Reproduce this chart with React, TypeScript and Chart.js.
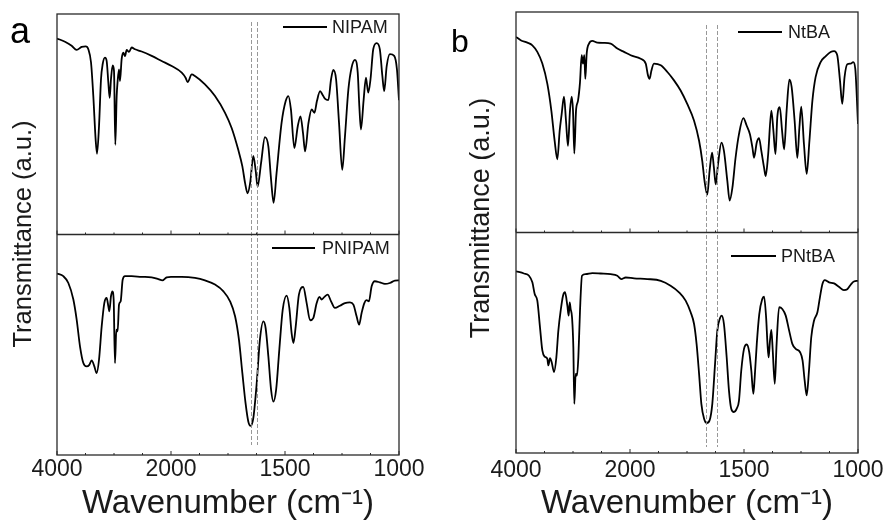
import React, { useEffect, useRef } from 'react';
import { Chart, registerables } from 'chart.js';

Chart.register(...registerables);

const FONT = "'Liberation Sans', Arial, Helvetica, sans-serif";

// Labelled wavenumbers on the (broken) x axis
const X_LABELS = [4000, 2000, 1500, 1000];

// [wavenumber (cm-1), transmittance (a.u., 0-100 within its sub-plot)]
const NIPAM: [number, number][] = [
  [4000, 88.9], [3860, 87.4], [3743, 85.6], [3655, 83.7], [3567, 85.1], [3497, 85.3], [3450, 84.0],
  [3403, 78.0], [3363, 62.8], [3322, 43.0], [3298, 36.6], [3263, 49.1], [3228, 70.4], [3199, 77.2],
  [3158, 80.2], [3129, 78.7], [3099, 68.8], [3076, 62.0], [3053, 70.4], [3023, 76.7], [3000, 74.2],
  [2977, 40.7], [2953, 62.8], [2936, 69.6], [2912, 74.9], [2895, 69.6], [2866, 79.5], [2837, 82.5],
  [2807, 80.9], [2778, 83.7], [2737, 82.8], [2690, 84.8], [2632, 84.0], [2515, 83.0], [2339, 81.0],
  [2164, 78.7], [1997, 76.4], [1953, 73.4], [1936, 71.1], [1927, 69.1], [1909, 72.6], [1895, 71.9],
  [1851, 68.1], [1807, 62.8], [1763, 55.2], [1734, 48.3], [1705, 38.4], [1687, 30.9], [1675, 23.3],
  [1664, 18.7], [1652, 24.0], [1639, 35.7], [1629, 29.3], [1620, 21.7], [1605, 32.4], [1588, 44.2],
  [1573, 40.0], [1561, 24.8], [1550, 14.4], [1537, 27.8], [1515, 50.6], [1497, 60.5], [1485, 62.8],
  [1474, 56.7], [1459, 39.2], [1444, 49.1], [1432, 53.6], [1421, 46.0], [1412, 37.7], [1397, 50.6],
  [1383, 56.7], [1371, 55.2], [1360, 60.5], [1346, 65.0], [1336, 63.5], [1325, 61.6], [1310, 60.9],
  [1298, 70.4], [1288, 74.6], [1276, 70.4], [1263, 50.6], [1249, 29.3], [1237, 44.5], [1222, 65.8],
  [1208, 75.7], [1193, 79.2], [1181, 73.4], [1174, 58.2], [1167, 47.6], [1155, 61.2], [1145, 71.1],
  [1135, 64.3], [1125, 70.4], [1113, 84.0], [1098, 86.8], [1084, 84.0], [1073, 71.9], [1065, 65.0],
  [1054, 76.4], [1040, 81.8], [1021, 81.0], [1009, 74.9], [1000, 60.9],
];

const PNIPAM: [number, number][] = [
  [4000, 82.3], [3889, 81.1], [3801, 78.0], [3713, 70.5], [3655, 61.4], [3596, 49.2], [3538, 41.7],
  [3480, 40.2], [3433, 40.9], [3392, 42.9], [3345, 40.2], [3304, 37.1], [3263, 43.2], [3216, 58.3],
  [3170, 68.9], [3129, 71.2], [3099, 67.4], [3082, 65.2], [3053, 72.0], [3029, 74.2], [3006, 70.5],
  [2983, 41.7], [2959, 56.8], [2936, 56.1], [2912, 68.2], [2883, 69.7], [2848, 79.5], [2807, 81.1],
  [2690, 81.1], [2515, 80.8], [2339, 80.6], [2222, 79.8], [2152, 79.2], [2076, 80.6], [2000, 80.8],
  [1953, 80.8], [1895, 80.3], [1851, 79.2], [1807, 77.3], [1770, 74.2], [1741, 69.7], [1719, 62.9],
  [1702, 52.3], [1687, 37.1], [1673, 23.5], [1661, 15.2], [1651, 13.2], [1639, 16.7], [1624, 32.6],
  [1610, 52.3], [1595, 60.6], [1585, 57.6], [1573, 44.7], [1561, 29.5], [1551, 24.2], [1539, 29.5],
  [1525, 47.7], [1510, 65.9], [1493, 72.3], [1481, 66.7], [1471, 55.3], [1463, 50.8], [1453, 58.3],
  [1439, 72.7], [1420, 76.2], [1405, 68.9], [1390, 61.1], [1376, 62.1], [1361, 68.9], [1349, 71.7],
  [1339, 70.5], [1327, 71.7], [1313, 72.7], [1298, 69.7], [1281, 66.7], [1259, 67.7], [1237, 68.9],
  [1215, 69.2], [1200, 68.2], [1186, 62.9], [1175, 59.1], [1164, 64.4], [1152, 68.9], [1142, 70.2],
  [1132, 69.7], [1120, 76.5], [1106, 78.8], [1084, 78.3], [1062, 77.6], [1040, 78.0], [1018, 79.1],
  [1000, 79.2],
];

const NTBA: [number, number][] = [
  [4000, 88.7], [3918, 87.2], [3801, 86.1], [3713, 84.9], [3626, 81.9], [3538, 76.6], [3450, 67.4],
  [3380, 55.3], [3322, 41.6], [3275, 33.2], [3234, 46.1], [3199, 53.7], [3158, 61.6], [3123, 50.7],
  [3088, 39.3], [3053, 55.3], [3023, 61.6], [3000, 55.3], [2977, 35.8], [2947, 55.3], [2912, 59.8],
  [2877, 68.2], [2848, 80.4], [2825, 76.6], [2801, 80.4], [2784, 69.7], [2760, 81.1], [2719, 85.7],
  [2661, 86.9], [2573, 86.1], [2456, 86.0], [2339, 85.7], [2222, 83.4], [2105, 81.9], [1997, 80.4],
  [1953, 78.8], [1931, 76.6], [1921, 71.2], [1914, 69.7], [1906, 73.5], [1895, 76.6], [1865, 75.8],
  [1836, 72.8], [1807, 69.0], [1778, 64.4], [1749, 58.3], [1719, 50.7], [1697, 41.6], [1683, 32.4],
  [1673, 23.3], [1661, 17.2], [1651, 27.9], [1640, 36.2], [1632, 29.4], [1624, 21.8], [1614, 30.9],
  [1599, 40.8], [1588, 37.0], [1573, 23.3], [1563, 14.5], [1551, 20.2], [1537, 33.9], [1522, 44.6],
  [1503, 51.9], [1488, 48.4], [1474, 44.6], [1463, 38.5], [1456, 33.9], [1444, 40.8], [1434, 42.8],
  [1424, 37.0], [1412, 29.4], [1405, 25.6], [1394, 35.5], [1380, 55.3], [1371, 46.1], [1362, 35.5],
  [1354, 52.2], [1343, 56.8], [1333, 46.1], [1324, 37.7], [1313, 55.3], [1301, 69.3], [1291, 65.9],
  [1278, 50.7], [1266, 33.9], [1257, 47.6], [1249, 57.1], [1237, 40.0], [1225, 26.6], [1213, 41.6],
  [1200, 59.8], [1186, 70.5], [1164, 77.3], [1142, 79.9], [1120, 81.9], [1105, 82.3], [1091, 80.4],
  [1079, 68.9], [1069, 58.3], [1059, 70.5], [1047, 76.3], [1032, 76.6], [1021, 77.3], [1012, 74.3],
  [1000, 49.2],
];

const PNTBA: [number, number][] = [
  [4000, 82.4], [3860, 81.4], [3772, 80.4], [3713, 77.4], [3672, 72.1], [3626, 69.1], [3579, 57.0],
  [3538, 46.5], [3497, 43.7], [3450, 42.7], [3433, 39.7], [3403, 43.0], [3374, 41.2], [3333, 36.7],
  [3292, 43.4], [3257, 55.5], [3216, 64.6], [3175, 71.3], [3140, 72.9], [3099, 66.8], [3076, 62.3],
  [3058, 68.3], [3041, 65.3], [3017, 61.5], [2994, 48.0], [2977, 22.3], [2953, 35.9], [2930, 35.1],
  [2906, 43.4], [2877, 64.6], [2842, 80.4], [2778, 81.1], [2661, 81.6], [2515, 81.4], [2339, 81.1],
  [2222, 80.4], [2152, 78.9], [2076, 79.6], [1982, 79.2], [1924, 78.9], [1865, 78.1], [1822, 75.9],
  [1785, 72.9], [1756, 69.1], [1734, 63.8], [1719, 58.5], [1708, 49.5], [1697, 35.9], [1687, 22.3],
  [1675, 15.5], [1664, 13.6], [1651, 14.8], [1639, 22.3], [1627, 40.4], [1617, 55.5], [1605, 61.2],
  [1598, 62.3], [1588, 58.5], [1576, 43.4], [1566, 28.4], [1556, 20.1], [1544, 18.6], [1532, 20.1],
  [1522, 23.8], [1512, 37.4], [1500, 47.2], [1488, 49.2], [1477, 45.7], [1468, 37.4], [1459, 26.8],
  [1453, 34.4], [1444, 49.5], [1433, 63.0], [1420, 69.8], [1412, 70.9], [1403, 61.5], [1397, 49.5],
  [1392, 43.4], [1386, 51.0], [1380, 55.8], [1374, 46.5], [1365, 31.4], [1357, 49.5], [1346, 66.1],
  [1332, 65.3], [1317, 62.3], [1302, 55.5], [1288, 49.5], [1273, 47.2], [1254, 45.7], [1243, 41.9],
  [1234, 32.9], [1225, 26.1], [1215, 37.4], [1205, 52.5], [1193, 60.0], [1178, 63.8], [1167, 70.6],
  [1156, 76.6], [1146, 78.4], [1127, 77.4], [1105, 76.9], [1084, 75.4], [1062, 73.9], [1047, 74.3],
  [1030, 76.6], [1018, 77.8], [1000, 78.1],
];

// Dashed reference lines (cm-1)
const MARKS_A = [1650, 1621];
const MARKS_B = [1666, 1619];

// Broken axis: 4000-2000 compressed, 2000-1000 expanded (4x)
function toAxis(w: number): number {
  return w >= 2000 ? (4000 - w) / 500 : 4 + (2000 - w) / 125;
}

type PanelCfg = {
  left: number;
  width: number;
  padL: number;
  padR: number;
  padT: number;
  xH: number;
  tickPad: number;
  titlePadB: number;
  top: [number, number][];
  bot: [number, number][];
  topName: string;
  botName: string;
  marks: number[];
  letter: string;
  letterX: number;
  letterY: number;
  letterSize: number;
  yTitleX: number;
  yTitleY: number;
  yTitleSize: number;
  legTop: { x1: number; x2: number; y: number; tx: number };
  legBot: { x1: number; x2: number; y: number; tx: number };
  markTop: number;
  markBot: number;
};

const decoPlugin = {
  id: 'panelDeco',
  afterDraw(chart: any, _args: any, o: any) {
    const ctx = chart.ctx as CanvasRenderingContext2D;
    const a = chart.chartArea;
    const xs = chart.scales.x;
    const yT = chart.scales.yTop;
    const div = yT.getPixelForValue(-100 + 0) - (yT.getPixelForValue(-100) - yT.getPixelForValue(0));
    const divY = yT.getPixelForValue(0);
    ctx.save();
    // dashed reference lines
    ctx.strokeStyle = '#8c8c8c';
    ctx.lineWidth = 0.9;
    ctx.setLineDash([4, 2]);
    for (const w of o.marks) {
      const px = Math.round(xs.getPixelForValue(toAxis(w))) + 0.5;
      ctx.beginPath();
      ctx.moveTo(px, o.markTop);
      ctx.lineTo(px, o.markBot);
      ctx.stroke();
    }
    ctx.setLineDash([]);
    // frame
    ctx.strokeStyle = '#2a2a2a';
    ctx.lineWidth = 1.3;
    ctx.strokeRect(a.left, a.top, a.right - a.left, a.bottom - a.top);
    ctx.beginPath();
    ctx.moveTo(a.left, divY);
    ctx.lineTo(a.right, divY);
    ctx.stroke();
    // inward ticks
    ctx.lineWidth = 1;
    for (let i = 0; i <= 12; i++) {
      const px = xs.getPixelForValue(i);
      const major = X_LABELS.some((w) => Math.abs(toAxis(w) - i) < 1e-6);
      const len = major ? 4 : 2;
      ctx.beginPath();
      ctx.moveTo(px, divY);
      ctx.lineTo(px, divY - len);
      ctx.moveTo(px, a.bottom);
      ctx.lineTo(px, a.bottom - len);
      ctx.stroke();
    }
    // legends
    ctx.strokeStyle = '#000';
    ctx.lineWidth = 1.8;
    ctx.fillStyle = '#1a1a1a';
    ctx.font = `18px ${FONT}`;
    ctx.textAlign = 'left';
    ctx.textBaseline = 'middle';
    const legs = [
      [o.legTop, o.topName],
      [o.legBot, o.botName],
    ];
    for (const [l, name] of legs) {
      ctx.beginPath();
      ctx.moveTo(l.x1, l.y);
      ctx.lineTo(l.x2, l.y);
      ctx.stroke();
      ctx.fillText(name, l.tx, l.y + 1);
    }
    // y title
    ctx.save();
    ctx.translate(o.yTitleX, o.yTitleY);
    ctx.rotate(-Math.PI / 2);
    ctx.textAlign = 'center';
    ctx.textBaseline = 'middle';
    ctx.font = `${o.yTitleSize}px ${FONT}`;
    ctx.fillText('Transmittance (a.u.)', 0, 0);
    ctx.restore();
    // panel letter
    ctx.font = `${o.letterSize}px ${FONT}`;
    ctx.textAlign = 'left';
    ctx.textBaseline = 'alphabetic';
    ctx.fillStyle = '#000';
    ctx.fillText(o.letter, o.letterX, o.letterY);
    ctx.restore();
    void div;
  },
};

function Panel({ cfg }: { cfg: PanelCfg }) {
  const ref = useRef<HTMLCanvasElement | null>(null);
  useEffect(() => {
    if (!ref.current) return;
    const mk = (arr: [number, number][]) => arr.map(([w, t]) => ({ x: toAxis(w), y: t }));
    const ds = (label: string, arr: [number, number][], axis: string) => ({
      label,
      data: mk(arr),
      yAxisID: axis,
      borderColor: '#000',
      borderWidth: 1.8,
      pointRadius: 0,
      cubicInterpolationMode: 'monotone' as const,
      fill: false,
    });
    const chart = new Chart(ref.current, {
      type: 'line',
      data: {
        datasets: [ds(cfg.topName, cfg.top, 'yTop'), ds(cfg.botName, cfg.bot, 'yBot')],
      },
      options: {
        animation: false,
        responsive: false,
        devicePixelRatio: 1,
        layout: { padding: { left: cfg.padL, right: cfg.padR, top: cfg.padT, bottom: 0 } },
        plugins: {
          legend: { display: false },
          tooltip: { enabled: false },
          panelDeco: {
            marks: cfg.marks,
            topName: cfg.topName,
            botName: cfg.botName,
            legTop: cfg.legTop,
            legBot: cfg.legBot,
            yTitleX: cfg.yTitleX,
            yTitleY: cfg.yTitleY,
            yTitleSize: cfg.yTitleSize,
            letter: cfg.letter,
            letterX: cfg.letterX,
            letterY: cfg.letterY,
            letterSize: cfg.letterSize,
            markTop: cfg.markTop,
            markBot: cfg.markBot,
          },
        } as any,
        scales: {
          x: {
            type: 'linear',
            min: 0,
            max: 12,
            afterFit: (s: any) => {
              s.height = cfg.xH;
            },
            afterBuildTicks: (s: any) => {
              s.ticks = Array.from({ length: 13 }, (_, i) => ({ value: i }));
            },
            ticks: {
              autoSkip: false,
              maxRotation: 0,
              minRotation: 0,
              padding: cfg.tickPad,
              color: '#1a1a1a',
              font: { size: 23, family: FONT },
              callback: (v: any) => {
                const l = X_LABELS.find((w) => Math.abs(toAxis(w) - Number(v)) < 1e-6);
                return l === undefined ? '' : String(l);
              },
            },
            grid: { display: false, drawTicks: false },
            border: { display: false },
            title: {
              display: true,
              text: 'Wavenumber (cm\u207B\u00B9)',
              color: '#1a1a1a',
              font: { size: 33, family: FONT },
              padding: { top: 0, bottom: cfg.titlePadB },
            },
          },
          yTop: { type: 'linear', min: -100, max: 100, display: false },
          yBot: { type: 'linear', min: 0, max: 200, display: false },
        },
      },
      plugins: [decoPlugin as any],
    });
    return () => chart.destroy();
  }, [cfg]);
  return (
    <canvas
      ref={ref}
      width={cfg.width}
      height={526}
      style={{ position: 'absolute', left: cfg.left, top: 0, width: cfg.width, height: 526 }}
    />
  );
}

const PANEL_A: PanelCfg = {
  left: 0,
  width: 440,
  padL: 57,
  padR: 41,
  padT: 14,
  xH: 71,
  tickPad: 1,
  titlePadB: 2,
  top: NIPAM,
  bot: PNIPAM,
  topName: 'NIPAM',
  botName: 'PNIPAM',
  marks: MARKS_A,
  letter: 'a',
  letterX: 10,
  letterY: 43,
  letterSize: 36,
  yTitleX: 24,
  yTitleY: 234,
  yTitleSize: 25.5,
  legTop: { x1: 283, x2: 327, y: 27, tx: 332 },
  legBot: { x1: 272, x2: 315, y: 248, tx: 322 },
  markTop: 22,
  markBot: 445,
};

const PANEL_B: PanelCfg = {
  left: 440,
  width: 449,
  padL: 76,
  padR: 31,
  padT: 12,
  xH: 73,
  tickPad: 4,
  titlePadB: 2,
  top: NTBA,
  bot: PNTBA,
  topName: 'NtBA',
  botName: 'PNtBA',
  marks: MARKS_B,
  letter: 'b',
  letterX: 11,
  letterY: 52,
  letterSize: 32,
  yTitleX: 42,
  yTitleY: 218,
  yTitleSize: 27,
  legTop: { x1: 298, x2: 342, y: 32, tx: 348 },
  legBot: { x1: 291, x2: 336, y: 256, tx: 341 },
  markTop: 25,
  markBot: 447,
};

export default function App() {
  return (
    <div
      style={{
        position: 'fixed',
        left: 0,
        top: 0,
        width: 889,
        height: 526,
        background: '#fff',
        overflow: 'hidden',
      }}
    >
      <Panel cfg={PANEL_A} />
      <Panel cfg={PANEL_B} />
    </div>
  );
}
